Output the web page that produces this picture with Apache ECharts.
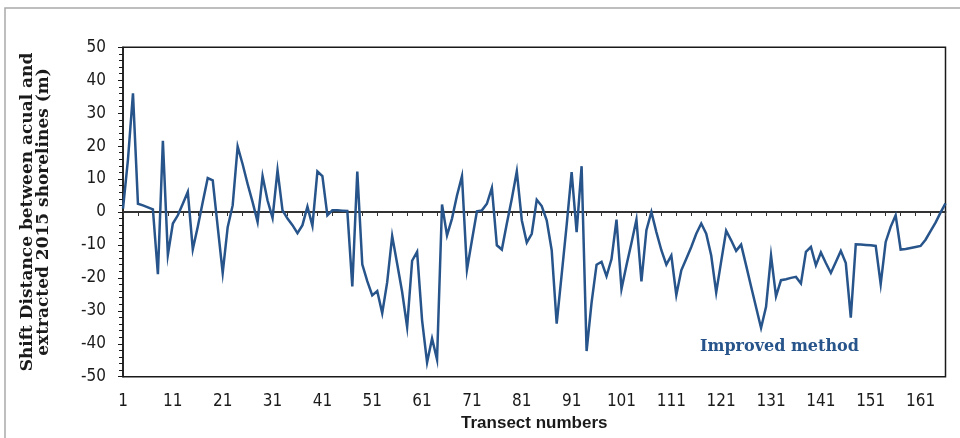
<!DOCTYPE html>
<html>
<head>
<meta charset="utf-8">
<title>Shift distance per transect</title>
<script src="https://cdn.jsdelivr.net/npm/echarts@6/dist/echarts.min.js"></script>
<style>
  html, body { margin: 0; padding: 0; background: #ffffff; }
  #chart { width: 960px; height: 438px; }
</style>
</head>
<body>
<div id="chart"></div>
<script>
// Transect numbers along the shoreline
const transectCount = 166;
const transects = [];
for (let n = 1; n <= transectCount; n++) transects.push(String(n));

// Shift distance (m) between actual and extracted 2015 shorelines, improved method
const shiftDistance = [
  1, 16, 36, 2.5, 2.0, 1.4, 0.8, -18.9, 21.6, -13,
  -3.5, -1, 2.5, 6.1, -11.3, -4.5, 3, 10.3, 9.6, -4.5,
  -18.5, -4.6, 2, 19.9, 14.5, 8.5, 3, -3, 10.9, 3.5,
  -1.8, 12.7, 0.5, -2, -4, -6.4, -4, 1.6, -4.2, 12.3,
  10.9, -1, 0.5, 0.5, 0.4, 0.3, -22.6, 12.3, -15.9, -21,
  -25.3, -24, -30.7, -21.3, -7.3, -15.7, -24.3, -34.9, -14.8, -12.1,
  -32.9, -45.7, -38.4, -44.8, 2.3, -7.1, -2, 5, 10.9, -17.5,
  -8.6, 0.2, 0.5, 2.5, 7.3, -10.1, -11.4, -3.5, 4, 12.3,
  -2.5, -9.3, -6.6, 3.7, 1.8, -2.5, -11.6, -33.9, -19, -4,
  12.1, -6.1, 13.9, -42.2, -27.5, -16, -15.1, -19.5, -14.3, -2.3,
  -23.4, -16.2, -9.4, -2.3, -21.1, -5.5, 0, -6.1, -11.6, -16,
  -13.2, -25.2, -17.7, -14.2, -10.6, -6.6, -3.5, -6.6, -13.2, -24.4,
  -15, -5.7, -8.6, -11.8, -9.9, -16.2, -22.6, -28.9, -35.2, -28.8,
  -13.2, -25.6, -20.7, -20.4, -20, -19.7, -21.7, -12.1, -10.6, -16.2,
  -12.3, -15.5, -18.5, -15.2, -11.8, -15.5, -32.1, -9.8, -9.9, -10,
  -10.1, -10.3, -21.9, -9.1, -4.5, -1, -11.4, -11.2, -10.9, -10.6,
  -10.3, -8.4, -5.8, -3.2, -0.2, 2.6
];

// Value axis range and step
const yMin = -50;
const yMax = 50;
const yStep = 10;

const seriesLabel = 'Improved method';
const yTitle = 'Shift Distance between acual and\nextracted 2015 shorelines (m)';
const xTitle = 'Transect numbers';

const lineColor = '#27548a';
const tickFont = "'Liberation Sans Narrow', 'DejaVu Sans Condensed', 'Liberation Sans', sans-serif";

const chart = echarts.init(document.getElementById('chart'), null, { renderer: 'canvas' });

chart.setOption({
  animation: false,
  backgroundColor: '#ffffff',
  grid: {
    left: 123,
    right: 14.5,
    top: 47.3,
    bottom: 61.3,
    outerBoundsMode: 'none',
    containLabel: false,
    show: true,
    borderColor: '#1a1a1a',
    borderWidth: 1.5,
    backgroundColor: 'transparent'
  },
  graphic: [
    {
      type: 'rect',
      z: -10,
      shape: { x: 5, y: 8, width: 1000, height: 1000 },
      style: { fill: 'none', stroke: '#a9a9a9', lineWidth: 1.5 }
    },
    {
      type: 'text',
      x: 700,
      y: 347,
      style: {
        text: seriesLabel,
        fill: lineColor,
        font: "bold 16px 'DejaVu Serif', 'Liberation Serif', serif",
        textAlign: 'left',
        textVerticalAlign: 'middle'
      }
    }
  ],
  xAxis: [
    {
      type: 'category',
      data: transects,
      boundaryGap: false,
      position: 'bottom',
      name: xTitle,
      nameLocation: 'middle',
      nameGap: 37,
      nameTextStyle: {
        color: '#1a1a1a',
        fontSize: 17,
        fontWeight: 'bold',
        fontFamily: "'Liberation Sans', Arial, sans-serif"
      },
      axisLine: { show: false, onZero: false },
      axisTick: { show: false },
      axisLabel: {
        interval: 9,
        margin: 16,
        color: '#1a1a1a',
        fontSize: 17,
        fontFamily: tickFont
      },
      splitLine: { show: false }
    },
    {
      type: 'category',
      data: transects,
      boundaryGap: false,
      position: 'top',
      axisLine: { show: true, onZero: true, lineStyle: { color: '#333333', width: 1.8 } },
      axisTick: { show: true, inside: true, interval: 2, length: 4, lineStyle: { color: '#333333', width: 1 } },
      axisLabel: { show: false },
      splitLine: { show: false }
    }
  ],
  yAxis: {
    type: 'value',
    min: yMin,
    max: yMax,
    interval: yStep,
    name: yTitle,
    nameLocation: 'middle',
    nameRotate: 90,
    nameGap: 71,
    nameTextStyle: {
      color: '#1a1a1a',
      fontSize: 17,
      fontWeight: 'bold',
      lineHeight: 16,
      fontFamily: "'DejaVu Serif', 'Liberation Serif', serif"
    },
    axisLine: { show: true, lineStyle: { color: '#1a1a1a', width: 1.5 } },
    axisTick: { show: true, length: 5, lineStyle: { color: '#1a1a1a', width: 1 } },
    minorTick: { show: true, splitNumber: 5, length: 4, lineStyle: { color: '#1a1a1a', width: 1 } },
    axisLabel: {
      margin: 17,
      color: '#1a1a1a',
      fontSize: 17,
      fontFamily: tickFont
    },
    splitLine: { show: false }
  },
  series: [
    {
      name: seriesLabel,
      type: 'line',
      xAxisIndex: 0,
      data: shiftDistance,
      showSymbol: false,
      symbol: 'none',
      lineStyle: { color: lineColor, width: 2.5, join: 'miter' },
      z: 5
    }
  ]
});
</script>
</body>
</html>
